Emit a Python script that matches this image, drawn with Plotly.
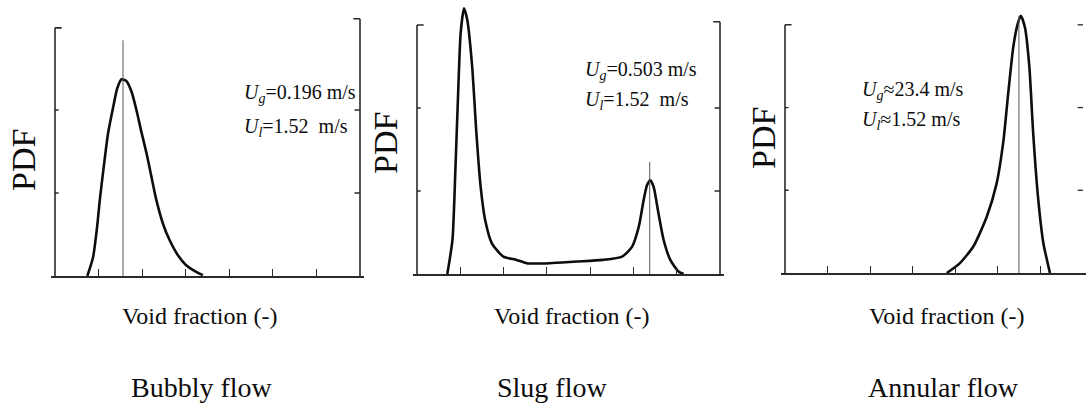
import plotly.graph_objects as go

W, H = 1086, 415

# ---------------- data ----------------
# void fraction normalised to the axis width (0 = left frame, 1 = right frame); PDF in tick units
BUBBLY_X = [0.106, 0.125, 0.138, 0.147, 0.160, 0.174, 0.191, 0.204, 0.218, 0.234, 0.251, 0.267,
            0.283, 0.300, 0.316, 0.332, 0.354, 0.376, 0.403, 0.430, 0.463, 0.485]
BUBBLY_Y = [0.0, 0.23, 0.59, 0.92, 1.32, 1.72, 2.04, 2.26, 2.37, 2.35, 2.22, 2.00,
            1.74, 1.48, 1.20, 0.92, 0.63, 0.43, 0.25, 0.13, 0.05, 0.01]

SLUG_X = [0.100, 0.117, 0.127, 0.135, 0.144, 0.155, 0.166, 0.182, 0.196, 0.209, 0.225, 0.247,
          0.285, 0.329, 0.362, 0.438, 0.525, 0.612, 0.677, 0.710, 0.732, 0.748, 0.759, 0.770,
          0.781, 0.797, 0.814, 0.836, 0.863, 0.880]
SLUG_Y = [0.0, 0.41, 1.29, 2.10, 2.90, 3.20, 3.06, 2.50, 1.70, 1.09, 0.65, 0.37,
          0.21, 0.17, 0.13, 0.13, 0.15, 0.17, 0.21, 0.33, 0.57, 0.89, 1.07, 1.13,
          1.05, 0.73, 0.41, 0.17, 0.03, 0.0]

ANNULAR_X = [0.543, 0.587, 0.632, 0.677, 0.710, 0.733, 0.749, 0.766, 0.780, 0.791, 0.805,
             0.820, 0.833, 0.850, 0.867, 0.884, 0.889]
ANNULAR_Y = [0.0, 0.12, 0.32, 0.68, 1.08, 1.60, 2.17, 2.73, 3.00, 3.11, 2.97,
             2.49, 1.68, 0.88, 0.36, 0.08, 0.0]

PEAK_X = [0.223, 0.768, 0.785]       # thin marker lines through the peaks
PEAK_TOP = [2.84, 1.35, 3.11]

X_TICKS = [1/7, 2/7, 3/7, 4/7, 5/7, 6/7]
Y_TICKS = [1, 2]

FLOW_NAMES = ["Bubbly flow", "Slug flow", "Annular flow"]
UG_TEXT = ["<i>U</i><sub><i>g</i></sub>=0.196\u00a0m/s",
           "<i>U</i><sub><i>g</i></sub>=0.503\u00a0m/s",
           "<i>U</i><sub><i>g</i></sub>\u224823.4\u00a0m/s"]
UL_TEXT = ["<i>U</i><sub><i>l</i></sub>=1.52\u00a0\u00a0m/s",
           "<i>U</i><sub><i>l</i></sub>=1.52\u00a0\u00a0m/s",
           "<i>U</i><sub><i>l</i></sub>\u22481.52\u00a0m/s"]
XLABEL = "Void fraction (-)"
YLABEL = "PDF"

CURVES = [(BUBBLY_X, BUBBLY_Y), (SLUG_X, SLUG_Y), (ANNULAR_X, ANNULAR_Y)]

# ---------------- layout geometry (pixels) ----------------
X0 = [55, 417, 785]
X1 = [360, 720, 1083]
YB = [276, 274, 273]
UNIT = 83.0
YTOP = 3.3
PAD = 0.012
LEFT_TOP = [2.99, 3.0, 3.0]
RIGHT_TOP = [3.1, 3.04, None]

UG_POS = [(242, 93), (583, 70), (860, 90)]
UL_POS = [(242, 127), (583, 100), (860, 120)]
PDF_POS = [(23, 160), (385, 143), (763, 138)]
XLAB_POS = [(200, 316), (572, 316), (947, 316)]
NAME_POS = [(202, 387), (552, 387), (943, 387)]

INK = "#0d0d0d"
FRAME = "#2a2a2a"
FONT = "Liberation Serif"

fig = go.Figure()
shapes = []
annotations = []


def px(x, y):
    return x / W, 1 - y / H


for i in range(3):
    sfx = "" if i == 0 else str(i + 1)
    xa, ya = "x" + sfx, "y" + sfx
    span = X1[i] - X0[i]
    d0 = max(0.0, (X0[i] - PAD * span) / W)
    d1 = min(1.0, (X1[i] + PAD * span) / W)
    r0 = (d0 * W - X0[i]) / span
    r1 = (d1 * W - X0[i]) / span
    yb = 1 - YB[i] / H
    yt = min(1.0, 1 - (YB[i] - YTOP * UNIT) / H)

    cx, cy = CURVES[i]
    fig.add_trace(go.Scatter(x=cx, y=cy, mode="lines", xaxis=xa, yaxis=ya,
                             line=dict(color=INK, width=2.6, shape="spline", smoothing=0.6),
                             hoverinfo="skip", showlegend=False))
    fig.add_trace(go.Scatter(x=[PEAK_X[i], PEAK_X[i]], y=[0, PEAK_TOP[i]], mode="lines",
                             xaxis=xa, yaxis=ya, line=dict(color="#555555", width=1),
                             hoverinfo="skip", showlegend=False))

    fig.update_layout({
        "xaxis" + sfx: dict(domain=[d0, d1], range=[r0, r1], anchor=ya,
                            showline=True, linecolor=FRAME, linewidth=1.6,
                            ticks="inside", tickvals=X_TICKS, ticklen=7, tickwidth=1.3,
                            tickcolor=FRAME, showticklabels=False, showgrid=False,
                            zeroline=False, fixedrange=True),
        "yaxis" + sfx: dict(domain=[yb, yt], range=[0, YTOP], anchor=xa, visible=False,
                            fixedrange=True),
    })

    ln = dict(color=FRAME, width=1.6)
    # left frame with top hook and inner ticks
    shapes.append(dict(type="line", xref=xa, yref=ya, x0=0, x1=0, y0=0, y1=LEFT_TOP[i], line=ln))
    shapes.append(dict(type="line", xref=xa, yref=ya, x0=0, x1=0.022, y0=LEFT_TOP[i],
                       y1=LEFT_TOP[i], line=ln))
    for t in Y_TICKS:
        shapes.append(dict(type="line", xref=xa, yref=ya, x0=0, x1=0.012, y0=t, y1=t,
                           line=dict(color=FRAME, width=1.3)))
    # right frame
    if RIGHT_TOP[i] is not None:
        shapes.append(dict(type="line", xref=xa, yref=ya, x0=1, x1=1, y0=0, y1=RIGHT_TOP[i],
                           line=ln))
        shapes.append(dict(type="line", xref=xa, yref=ya, x0=1, x1=0.978, y0=RIGHT_TOP[i],
                           y1=RIGHT_TOP[i], line=ln))
        rt = Y_TICKS
    else:
        rt = Y_TICKS + [3]
    for t in rt:
        shapes.append(dict(type="line", xref=xa, yref=ya, x0=1, x1=0.982, y0=t, y1=t,
                           line=dict(color=FRAME, width=1.3)))

    # texts
    for txt, (x, y) in ((UG_TEXT[i], UG_POS[i]), (UL_TEXT[i], UL_POS[i])):
        ax_, ay_ = px(x, y)
        annotations.append(dict(text=txt, x=ax_, y=ay_, xref="paper", yref="paper",
                                xanchor="left", yanchor="middle", showarrow=False,
                                font=dict(family=FONT, size=20, color=INK)))
    ax_, ay_ = px(*PDF_POS[i])
    annotations.append(dict(text=YLABEL, x=ax_, y=ay_, xref="paper", yref="paper",
                            xanchor="center", yanchor="middle", showarrow=False, textangle=-90,
                            font=dict(family=FONT, size=34, color=INK)))
    ax_, ay_ = px(*XLAB_POS[i])
    annotations.append(dict(text=XLABEL, x=ax_, y=ay_, xref="paper", yref="paper",
                            xanchor="center", yanchor="middle", showarrow=False,
                            font=dict(family=FONT, size=24, color=INK)))
    ax_, ay_ = px(*NAME_POS[i])
    annotations.append(dict(text=FLOW_NAMES[i], x=ax_, y=ay_, xref="paper", yref="paper",
                            xanchor="center", yanchor="middle", showarrow=False,
                            font=dict(family=FONT, size=28, color=INK)))

fig.update_layout(width=W, height=H, margin=dict(l=0, r=0, t=0, b=0),
                  paper_bgcolor="white", plot_bgcolor="white",
                  shapes=shapes, annotations=annotations, showlegend=False)

fig.write_html("out.html", config={"displayModeBar": False})
